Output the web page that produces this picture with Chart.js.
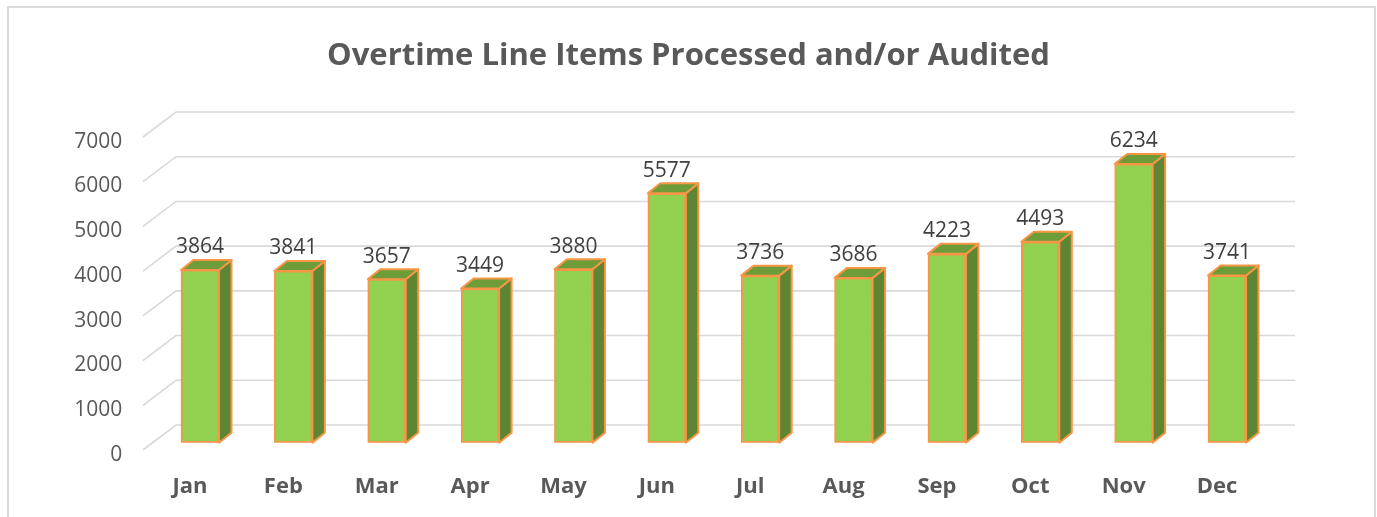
<!DOCTYPE html>
<html>
<head>
<meta charset="utf-8">
<script src="https://cdn.jsdelivr.net/npm/chart.js@4.4.1/dist/chart.umd.min.js"></script>
<style>
  body { margin: 0; background: #fff; }
</style>
</head>
<body>
<canvas id="otChart" width="1377" height="517"></canvas>
<script>
// data
const months = ['Jan', 'Feb', 'Mar', 'Apr', 'May', 'Jun', 'Jul', 'Aug', 'Sep', 'Oct', 'Nov', 'Dec'];
const lineItems = [3864, 3841, 3657, 3449, 3880, 5577, 3736, 3686, 4223, 4493, 6234, 3741];
const yMin = 0;
const yMax = 7000;
const yStep = 1000;

const grey = '#595959';
const frontGreen = '#92D050';
const sideGreen = '#5E8632';
const topGreen = '#6E9C38';
const orange = '#F79646';
const DEPTH_X = 12.5, DEPTH_Y = 10;

// outer frame + white background
const framePlugin = {
  id: 'frame',
  beforeDraw(chart) {
    const c = chart.ctx;
    c.save();
    c.fillStyle = '#fff';
    c.fillRect(0, 0, chart.width, chart.height);
    c.strokeStyle = '#d9d9d9';
    c.lineWidth = 2;
    c.strokeRect(8, 7, 1367, 530);
    c.restore();
  }
};

// 3d-ish gridlines: short diagonal in front, then flat back wall line
const gridPlugin = {
  id: 'grid3d',
  beforeDatasetsDraw(chart) {
    const c = chart.ctx;
    const ys = chart.scales.y;
    c.save();
    c.strokeStyle = '#d9d9d9';
    c.lineWidth = 1.6;
    for (let v = yMin; v <= yMax; v += yStep) {
      const y = ys.getPixelForValue(v);
      c.beginPath();
      c.moveTo(143, y + 7.3);
      c.lineTo(176, y - 17.7);
      c.lineTo(1295, y - 17.7);
      c.stroke();
    }
    c.restore();
  }
};

// side and top faces of each bar, then the value labels
const barsPlugin = {
  id: 'bars3d',
  beforeDatasetsDraw(chart) {
    const c = chart.ctx;
    const meta = chart.getDatasetMeta(0);
    c.save();
    c.strokeStyle = orange;
    c.lineWidth = 2;
    c.lineJoin = 'round';
    meta.data.forEach(bar => {
      const { x, y, base, width } = bar.getProps(['x', 'y', 'base', 'width'], true);
      const l = x - width / 2, r = x + width / 2;
      // side
      c.beginPath();
      c.moveTo(r, y);
      c.lineTo(r + DEPTH_X, y - DEPTH_Y);
      c.lineTo(r + DEPTH_X, base - DEPTH_Y);
      c.lineTo(r, base);
      c.closePath();
      c.fillStyle = sideGreen;
      c.fill();
      c.stroke();
      // top
      c.beginPath();
      c.moveTo(l, y);
      c.lineTo(l + DEPTH_X, y - DEPTH_Y);
      c.lineTo(r + DEPTH_X, y - DEPTH_Y);
      c.lineTo(r, y);
      c.closePath();
      c.fillStyle = topGreen;
      c.fill();
      c.stroke();
    });
    c.restore();
  },
  afterDatasetsDraw(chart) {
    const c = chart.ctx;
    const meta = chart.getDatasetMeta(0);
    const vals = chart.data.datasets[0].data;
    c.save();
    c.font = '21px "Open Sans"';
    c.fillStyle = '#404040';
    c.textAlign = 'center';
    c.textBaseline = 'middle';
    meta.data.forEach((bar, i) => {
      c.fillText(String(vals[i]), bar.x, bar.y - 22.5);
    });
    c.restore();
  }
};

const ctx = document.getElementById('otChart').getContext('2d');
new Chart(ctx, {
  type: 'bar',
  data: {
    labels: months,
    datasets: [{
      data: lineItems,
      backgroundColor: frontGreen,
      borderColor: orange,
      borderWidth: 2,
      borderSkipped: false,
      barThickness: 38
    }]
  },
  options: {
    responsive: false,
    animation: false,
    layout: { padding: 0 },
    plugins: {
      legend: { display: false },
      tooltip: { enabled: false },
      title: {
        display: true,
        text: 'Overtime Line Items Processed and/or Audited',
        color: grey,
        font: { family: '"Open Sans"', size: 31, weight: 'bold', lineHeight: 1.2 },
        padding: { top: 38, bottom: 54.5 }
      }
    },
    scales: {
      x: {
        grid: { display: false, drawTicks: false },
        border: { display: false },
        ticks: {
          color: grey,
          font: { family: '"Open Sans"', size: 22, weight: 'bold' },
          padding: 31,
          labelOffset: -10,
          maxRotation: 0
        },
        afterFit(s) { s.height = 74.3; }
      },
      y: {
        min: yMin,
        max: yMax,
        grid: { display: false, drawTicks: false },
        border: { display: false },
        ticks: {
          stepSize: yStep,
          color: grey,
          font: { family: '"Open Sans"', size: 21 },
          padding: 31,
          labelOffset: 12,
          callback: v => String(v)
        },
        afterFit(s) { s.width = 153.3; }
      },
      // empty right-hand strip so the plot ends where the reference does
      pad: {
        position: 'right',
        display: true,
        grid: { display: false, drawTicks: false },
        border: { display: false },
        ticks: { display: false },
        afterFit(s) { s.width = 103.3; }
      }
    }
  },
  plugins: [framePlugin, gridPlugin, barsPlugin]
});
</script>
</body>
</html>
